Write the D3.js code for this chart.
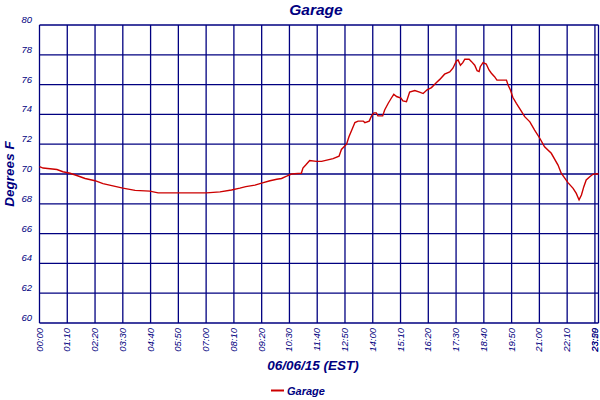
<!DOCTYPE html>
<html>
<head>
<meta charset="utf-8">
<script src="https://cdn.jsdelivr.net/npm/d3@7"></script>
<style>
	body { margin: 0; background: #fff; }
	text { font-family: "Liberation Sans", Arial, sans-serif; fill: #000080; }
	.tick-label { font-size: 9.5px; font-style: italic; }
	.title { font-size: 15.5px; font-weight: bold; font-style: italic; }
	.axis-title { font-size: 13.5px; font-weight: bold; font-style: italic; }
	.legend { font-size: 11px; font-weight: bold; font-style: italic; }
	.grid { stroke: #000080; stroke-width: 1.3; }
	.data { fill: none; stroke: #cc0000; stroke-width: 1.4; stroke-linejoin: miter; }
</style>
</head>
<body>
<svg width="600" height="400"></svg>
<script>
// sample index (one per logged minute) and temperature
const samples = [0, 9, 44, 59, 77, 94, 115, 140, 160, 185, 210, 241, 278, 299, 421, 455, 484, 505, 520, 543,
	562, 581, 598, 610, 623, 635, 660, 664, 671, 681, 698, 711, 740, 755, 761, 774, 780, 789, 795, 803,
	816, 820, 831, 837, 843, 849, 853, 865, 870, 879, 887, 893, 900, 911, 916, 925, 933, 946, 958, 967,
	977, 988, 1000, 1009, 1021, 1034, 1042, 1051, 1055, 1061, 1067, 1072, 1083, 1089, 1097, 1103, 1108, 1111, 1118, 1126,
	1133, 1139, 1147, 1153, 1177, 1181, 1187, 1193, 1202, 1210, 1223, 1236, 1248, 1261, 1273, 1290, 1307, 1315, 1332, 1345,
	1353, 1360, 1366, 1372, 1378, 1387, 1395, 1404, 1409];
const temps = [70.5, 70.4, 70.3, 70.15, 70.05, 69.9, 69.7, 69.55, 69.35, 69.2, 69.05, 68.9, 68.85, 68.73, 68.73, 68.8, 68.93, 69.05, 69.15, 69.25,
	69.4, 69.55, 69.65, 69.7, 69.85, 70.0, 70.05, 70.4, 70.6, 70.9, 70.85, 70.85, 71.03, 71.2, 71.65, 72.0, 72.5, 73.07, 73.45, 73.55,
	73.55, 73.45, 73.55, 73.9, 74.1, 74.1, 73.9, 73.9, 74.3, 74.75, 75.1, 75.35, 75.2, 75.1, 74.9, 74.85, 75.5, 75.6, 75.5, 75.4,
	75.65, 75.8, 76.13, 76.35, 76.7, 76.85, 77.1, 77.6, 77.65, 77.3, 77.47, 77.7, 77.7, 77.54, 77.3, 76.93, 76.87, 77.2, 77.47, 77.38,
	76.98, 76.76, 76.53, 76.3, 76.3, 75.97, 75.64, 75.15, 74.74, 74.4, 73.85, 73.5, 72.95, 72.4, 71.83, 71.39, 70.6, 70.05, 69.42, 69.04,
	68.7, 68.26, 68.59, 69.15, 69.6, 69.82, 69.98, 70.02, 70.0];

const xTickPositions = [0, 70, 140, 210, 280, 350, 420, 490, 560, 630, 700, 770, 840, 910, 980, 1050,
	1120, 1190, 1260, 1330, 1400, 1409];
const xTickLabels = ['00:00', '01:10', '02:20', '03:30', '04:40', '05:50', '07:00', '08:10', '09:20', '10:30', '11:40', '12:50',
	'14:00', '15:10', '16:20', '17:30', '18:40', '19:50', '21:00', '22:10', '23:20', '23:59'];
const yTicks = [60, 62, 64, 66, 68, 70, 72, 74, 76, 78, 80];

const seriesName = 'Garage';
const chartTitle = 'Garage';
const xTitle = '06/06/15 (EST)';
const yTitle = 'Degrees F';

const svg = d3.select('svg');
const plot = { left: 39.5, right: 598.5, top: 25, bottom: 323 };

const x = d3.scaleLinear()
	.domain([0, 1409])
	.range([plot.left, plot.right]);

const y = d3.scaleLinear()
	.domain([60, 80])
	.range([plot.bottom, plot.top]);

// horizontal grid
svg.append('g')
	.selectAll('line')
	.data(yTicks)
	.enter()
	.append('line')
	.attr('class', 'grid')
	.attr('x1', plot.left)
	.attr('x2', plot.right)
	.attr('y1', (d) => y(d))
	.attr('y2', (d) => y(d));

// vertical grid
svg.append('g')
	.selectAll('line')
	.data(xTickPositions)
	.enter()
	.append('line')
	.attr('class', 'grid')
	.attr('x1', (d) => x(d))
	.attr('x2', (d) => x(d))
	.attr('y1', plot.top)
	.attr('y2', plot.bottom);

// y tick labels
svg.append('g')
	.selectAll('text')
	.data(yTicks)
	.enter()
	.append('text')
	.attr('class', 'tick-label')
	.attr('x', 32)
	.attr('y', (d) => y(d) - 2)
	.attr('text-anchor', 'end')
	.text((d) => d);

// x tick labels, rotated
svg.append('g')
	.selectAll('text')
	.data(xTickPositions)
	.enter()
	.append('text')
	.attr('class', 'tick-label')
	.attr('text-anchor', 'end')
	.attr('transform', (d) => `translate(${Math.min(x(d) + 3, 598)}, 328) rotate(-90)`)
	.text((d, i) => xTickLabels[i]);

const line = d3.line()
	.x((d) => x(d[0]))
	.y((d) => y(d[1]));

svg.append('path')
	.datum(samples.map((s, i) => [s, temps[i]]))
	.attr('class', 'data')
	.attr('d', line);

svg.append('text')
	.attr('class', 'title')
	.attr('x', 316)
	.attr('y', 15)
	.attr('text-anchor', 'middle')
	.text(chartTitle);

svg.append('text')
	.attr('class', 'axis-title')
	.attr('x', 313)
	.attr('y', 370)
	.attr('text-anchor', 'middle')
	.text(xTitle);

svg.append('text')
	.attr('class', 'axis-title')
	.attr('transform', 'translate(14, 174) rotate(-90)')
	.attr('text-anchor', 'middle')
	.text(yTitle);

// legend
svg.append('line')
	.attr('x1', 271)
	.attr('x2', 284)
	.attr('y1', 390.5)
	.attr('y2', 390.5)
	.attr('stroke', '#cc0000')
	.attr('stroke-width', 2);

svg.append('text')
	.attr('class', 'legend')
	.attr('x', 287)
	.attr('y', 394.5)
	.text(seriesName);
</script>
</body>
</html>
